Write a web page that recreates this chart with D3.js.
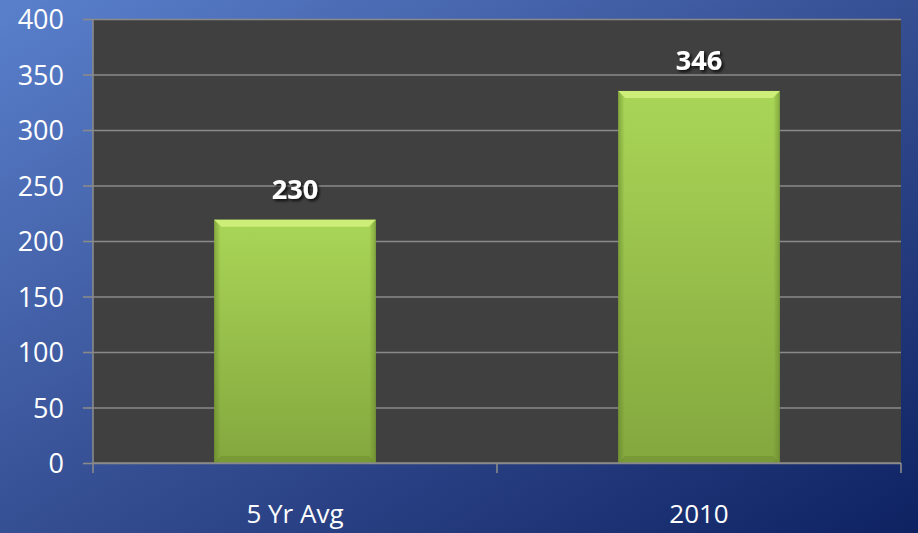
<!DOCTYPE html>
<html>
<head>
<meta charset="utf-8">
<script src="https://cdn.jsdelivr.net/npm/d3@7"></script>
<style>
  html, body { margin: 0; padding: 0; background: #2c4488; }
  svg { display: block; }
</style>
</head>
<body>
<div id="chart"></div>
<script>
// data
let categories = ["5 Yr Avg", "2010"];
let values = [230, 346];
let yTicks = [0, 50, 100, 150, 200, 250, 300, 350, 400];

let dim = {
    width: 918, height: 533,
    margin: { top: 19, right: 17, bottom: 70, left: 93 }
};
dim.plot = {
    width: dim.width - dim.margin.left - dim.margin.right,
    height: dim.height - dim.margin.top - dim.margin.bottom
};

let bevelDrop = 12;   // visible bar top sits a little under the value (bevel)

let x = d3.scaleBand()
        .domain(categories)
        .range([0, dim.plot.width])
        .paddingInner(0.6)
        .paddingOuter(0.3);

let y = d3.scaleLinear()
        .domain([0, 400])
        .range([dim.plot.height, 0]);

let svg = d3.select("#chart").append("svg")
        .attr("width", dim.width)
        .attr("height", dim.height);

let defs = svg.append("defs");

let bg = defs.append("linearGradient")
        .attr("id", "bgGrad")
        .attr("x1", "0%").attr("y1", "0%")
        .attr("x2", "100%").attr("y2", "100%");
bg.append("stop").attr("offset", "0%").attr("stop-color", "#5a80cc");
bg.append("stop").attr("offset", "45%").attr("stop-color", "#3a5499");
bg.append("stop").attr("offset", "100%").attr("stop-color", "#0e2262");

let barGrad = defs.append("linearGradient")
        .attr("id", "barGrad")
        .attr("x1", "0%").attr("y1", "0%")
        .attr("x2", "0%").attr("y2", "100%");
barGrad.append("stop").attr("offset", "0%").attr("stop-color", "#a9d657");
barGrad.append("stop").attr("offset", "100%").attr("stop-color", "#84a73e");

let sideGrad = defs.append("linearGradient")
        .attr("id", "sideGrad")
        .attr("x1", "0%").attr("y1", "0%")
        .attr("x2", "100%").attr("y2", "0%");
sideGrad.append("stop").attr("offset", "0%").attr("stop-color", "#5d7a25").attr("stop-opacity", 0.5);
sideGrad.append("stop").attr("offset", "4%").attr("stop-color", "#5d7a25").attr("stop-opacity", 0);
sideGrad.append("stop").attr("offset", "96%").attr("stop-color", "#5d7a25").attr("stop-opacity", 0);
sideGrad.append("stop").attr("offset", "100%").attr("stop-color", "#5d7a25").attr("stop-opacity", 0.5);

let shadow = defs.append("filter")
        .attr("id", "txtShadow")
        .attr("x", "-20%").attr("y", "-20%")
        .attr("width", "150%").attr("height", "160%");
shadow.append("feDropShadow")
        .attr("dx", 2).attr("dy", 2)
        .attr("stdDeviation", 1.5)
        .attr("flood-color", "#000")
        .attr("flood-opacity", 0.8);

svg.append("rect")
        .attr("width", dim.width)
        .attr("height", dim.height)
        .attr("fill", "url(#bgGrad)");

let g = svg.append("g")
        .attr("transform", "translate(" + dim.margin.left + "," + dim.margin.top + ")");

g.append("rect")
        .attr("width", dim.plot.width)
        .attr("height", dim.plot.height)
        .attr("fill", "#404040");

// gridlines
g.append("g")
        .attr("class", "grid")
        .call(d3.axisLeft(y).tickValues(yTicks).tickSize(-dim.plot.width).tickFormat(""))
        .call(s => s.select(".domain").remove())
        .call(s => s.selectAll("line").attr("stroke", "#8a8a8a").attr("stroke-width", 1.6));

let yAxis = g.append("g")
        .attr("class", "y axis")
        .call(d3.axisLeft(y).tickValues(yTicks).tickSize(10).tickPadding(19))
        .call(s => s.select(".domain").remove());
yAxis.selectAll("line").attr("stroke", "#8a8a8a").attr("stroke-width", 1.6);
yAxis.selectAll("text")
        .attr("fill", "#fff")
        .style("font-family", "'Open Sans', sans-serif")
        .style("font-size", "27px")
        .attr("dy", "0.36em");

// axis lines and category ticks
g.append("line")
        .attr("x1", 0).attr("x2", 0)
        .attr("y1", 0).attr("y2", dim.plot.height + 10)
        .attr("stroke", "#8a8a8a").attr("stroke-width", 1.6);
[dim.plot.width / 2, dim.plot.width].forEach(tx => {
    g.append("line")
        .attr("x1", tx).attr("x2", tx)
        .attr("y1", dim.plot.height).attr("y2", dim.plot.height + 10)
        .attr("stroke", "#8a8a8a").attr("stroke-width", 1.6);
});

// bars
let bars = g.selectAll("g.bar")
        .data(values)
    .enter().append("g")
        .attr("class", "bar");

function barTop(d) { return y(d) + bevelDrop; }

bars.append("rect")
        .attr("x", (d, i) => x(categories[i]))
        .attr("y", barTop)
        .attr("width", x.bandwidth())
        .attr("height", d => y(0) - barTop(d))
        .attr("fill", "url(#barGrad)");

bars.append("rect")
        .attr("x", (d, i) => x(categories[i]))
        .attr("y", barTop)
        .attr("width", x.bandwidth())
        .attr("height", d => y(0) - barTop(d))
        .attr("fill", "url(#sideGrad)");

// top bevel highlight
bars.append("path")
        .attr("d", (d, i) => {
            let x0 = x(categories[i]), x1 = x0 + x.bandwidth(), t = barTop(d), b = 7;
            return "M" + x0 + "," + t + "L" + x1 + "," + t + "L" + (x1 - b) + "," + (t + b) +
                   "L" + (x0 + b) + "," + (t + b) + "Z";
        })
        .attr("fill", "#cdee78");

// bottom bevel shade
bars.append("path")
        .attr("d", (d, i) => {
            let x0 = x(categories[i]), x1 = x0 + x.bandwidth(), bt = y(0), b = 7;
            return "M" + x0 + "," + bt + "L" + x1 + "," + bt + "L" + (x1 - b) + "," + (bt - b) +
                   "L" + (x0 + b) + "," + (bt - b) + "Z";
        })
        .attr("fill", "#6c8b30")
        .attr("opacity", 0.5);

// value labels
bars.append("text")
        .attr("x", (d, i) => x(categories[i]) + x.bandwidth() / 2)
        .attr("y", d => y(d) - 9)
        .attr("text-anchor", "middle")
        .attr("fill", "#fff")
        .attr("filter", "url(#txtShadow)")
        .style("font-family", "'Open Sans', sans-serif")
        .style("font-weight", "bold")
        .style("font-size", "27px")
        .text(d => d);

// bottom line + category labels
g.append("line")
        .attr("x1", 0).attr("x2", dim.plot.width)
        .attr("y1", dim.plot.height).attr("y2", dim.plot.height)
        .attr("stroke", "#8a8a8a").attr("stroke-width", 1.6);

g.selectAll("text.cat")
        .data(categories)
    .enter().append("text")
        .attr("class", "cat")
        .attr("x", d => x(d) + x.bandwidth() / 2)
        .attr("y", dim.plot.height + 60)
        .attr("text-anchor", "middle")
        .attr("fill", "#fff")
        .style("font-family", "'Open Sans', sans-serif")
        .style("font-size", "26px")
        .text(d => d);
</script>
</body>
</html>
